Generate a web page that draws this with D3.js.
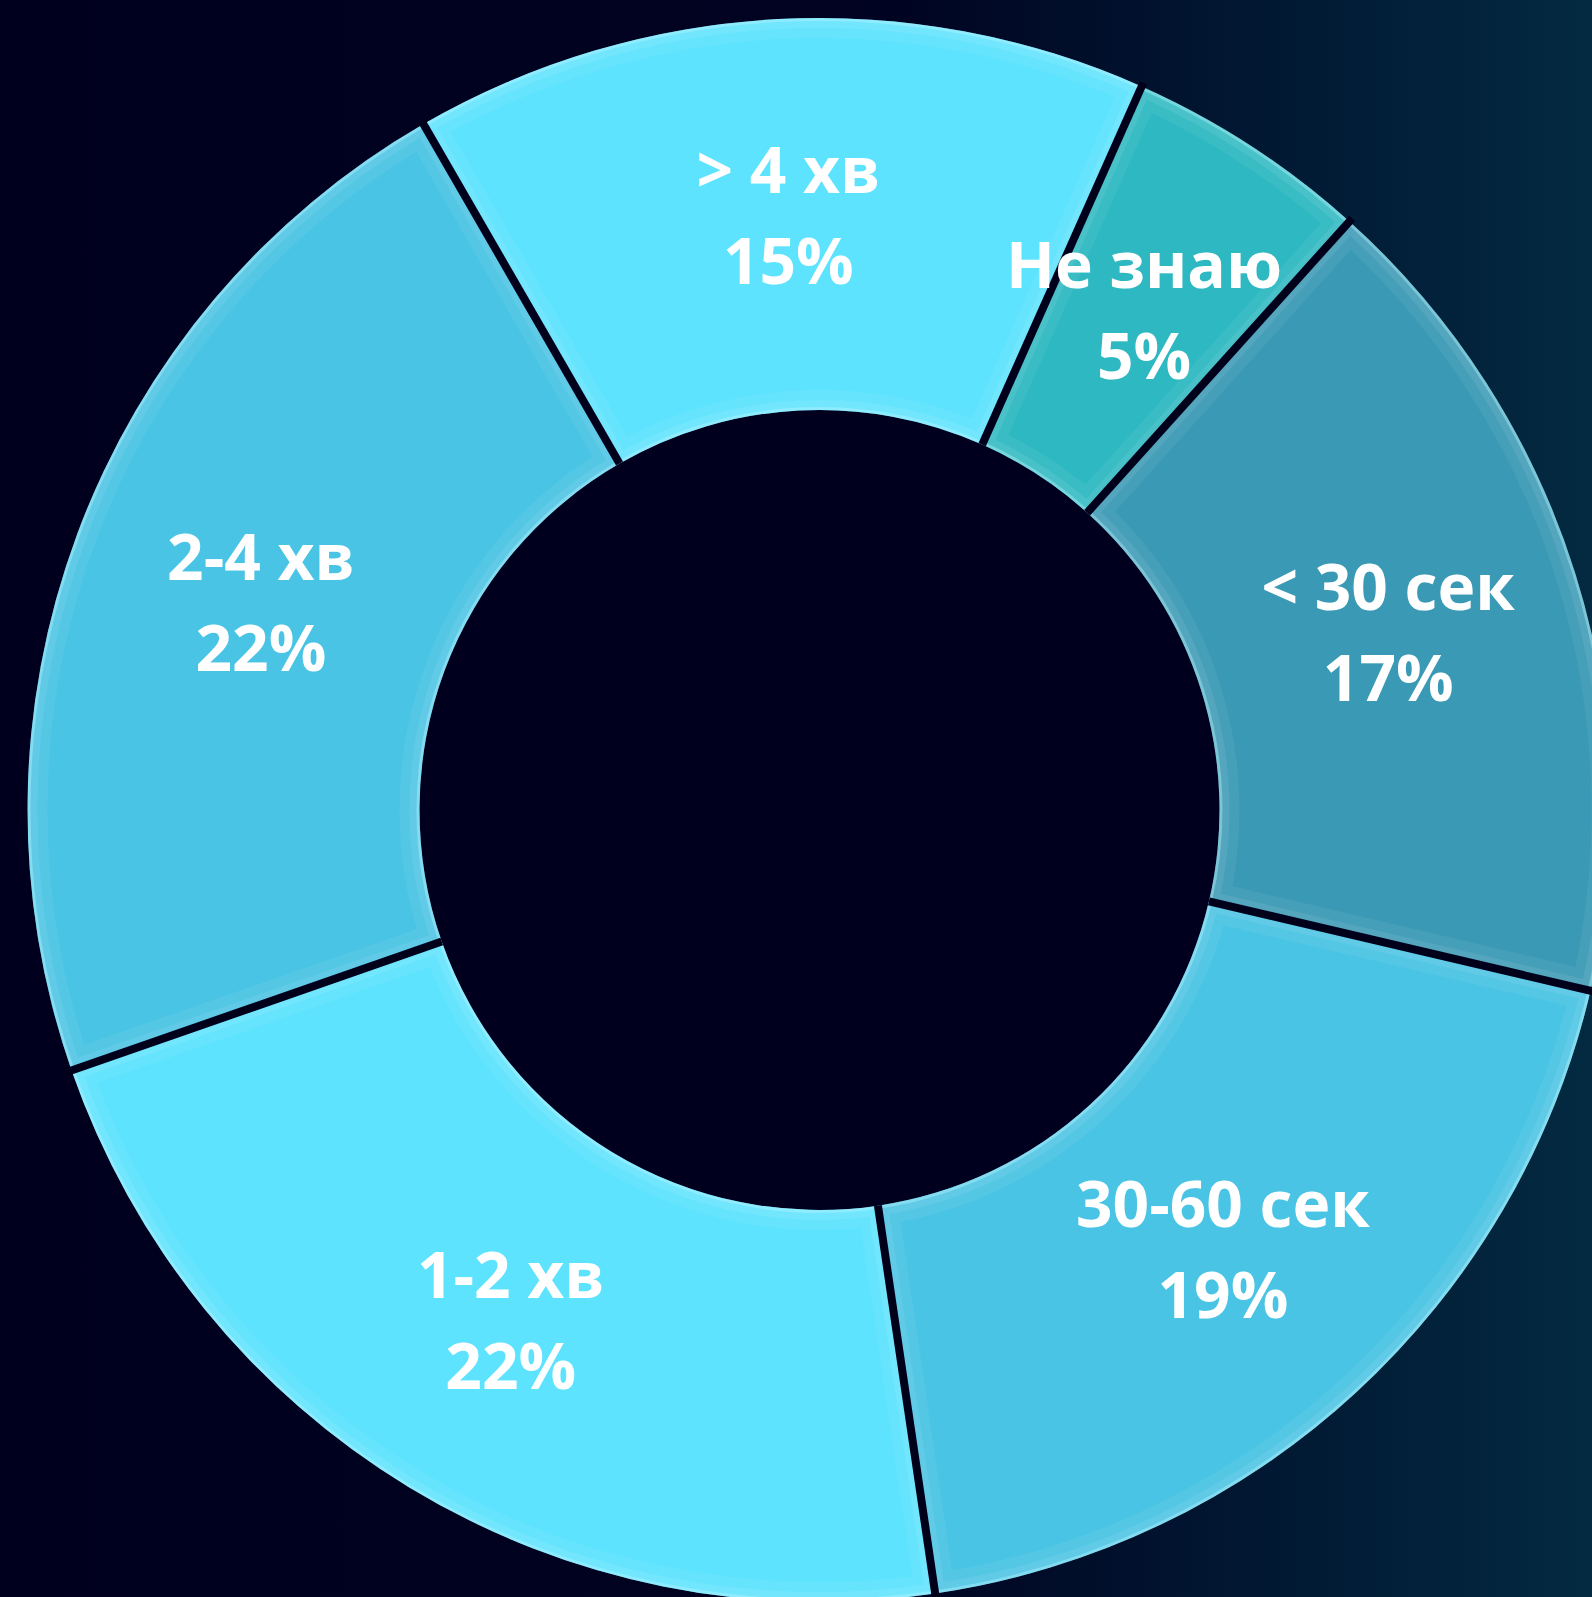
<!DOCTYPE html>
<html>
<head>
<meta charset="utf-8">
<script src="https://cdn.jsdelivr.net/npm/d3@7"></script>
<style>
  html, body { margin: 0; padding: 0; background: #00001e; overflow: hidden; }
  .label { font-family: "Open Sans", sans-serif; font-weight: 700; fill: #fff; }
</style>
</head>
<body>
<svg id="chart"></svg>
<script>
// Slices, clockwise, starting from "Не знаю"
const categories = ['Не знаю', '< 30 сек', '30-60 сек', '1-2 хв', '2-4 хв', '> 4 хв'];
const shares = [5, 17, 19, 22, 22, 15];
const sliceColors = ['#2eb8c1', '#3a99b4', '#4ac4e4', '#5de3fd', '#4ac4e4', '#5de3fd'];

const width = 1592, height = 1597;
const cx = 819.5, cy = 810;
const outerR = 792, innerR = 400;
const startDeg = 24;

const svg = d3.select('#chart')
  .attr('width', width)
  .attr('height', height);

const defs = svg.append('defs');

// background: navy fading to dark teal on the right
const bg = defs.append('linearGradient')
  .attr('id', 'bg')
  .attr('x1', 0).attr('x2', 1).attr('y1', 0).attr('y2', 0);
bg.append('stop').attr('offset', '0').attr('stop-color', '#00001e');
bg.append('stop').attr('offset', '0.55').attr('stop-color', '#000321');
bg.append('stop').attr('offset', '1').attr('stop-color', '#032a41');

svg.append('rect')
  .attr('width', width)
  .attr('height', height)
  .attr('fill', 'url(#bg)');

const pie = d3.pie()
  .sort(null)
  .value(d => d.value)
  .startAngle(startDeg * Math.PI / 180)
  .endAngle(startDeg * Math.PI / 180 + 2 * Math.PI);

const arc = d3.arc()
  .innerRadius(innerR)
  .outerRadius(outerR);

const data = categories.map((c, i) => ({name: c, value: shares[i], color: sliceColors[i]}));
const arcs = pie(data);

const chart = svg.append('g')
  .attr('transform', `translate(${cx},${cy})`);

// the hole keeps the plain navy of the plot area
chart.append('circle')
  .attr('r', innerR + 2)
  .attr('fill', '#00001e');

// clip each slice so the bevel strokes stay inside
arcs.forEach((d, i) => {
  defs.append('clipPath')
    .attr('id', `clip${i}`)
    .append('path')
    .attr('d', arc(d));
});

const slices = chart.selectAll('.slice')
  .data(arcs)
  .join('g')
  .attr('class', 'slice');

slices.append('path')
  .attr('d', arc)
  .attr('fill', d => d.data.color);

// soft bevel: wide faint band, then a thin bright rim
slices.append('path')
  .attr('d', arc)
  .attr('clip-path', (d, i) => `url(#clip${i})`)
  .attr('fill', 'none')
  .attr('stroke', '#ffffff')
  .attr('stroke-opacity', 0.06)
  .attr('stroke-width', 40);

slices.append('path')
  .attr('d', arc)
  .attr('clip-path', (d, i) => `url(#clip${i})`)
  .attr('fill', 'none')
  .attr('stroke', '#ffffff')
  .attr('stroke-opacity', 0.08)
  .attr('stroke-width', 20);

slices.append('path')
  .attr('d', arc)
  .attr('clip-path', (d, i) => `url(#clip${i})`)
  .attr('fill', 'none')
  .attr('stroke', '#b8f6ff')
  .attr('stroke-opacity', 0.4)
  .attr('stroke-width', 6);

// dark gaps along the slice borders
chart.selectAll('.gap')
  .data(arcs)
  .join('line')
  .attr('class', 'gap')
  .attr('x1', d => innerR * Math.sin(d.startAngle))
  .attr('y1', d => -innerR * Math.cos(d.startAngle))
  .attr('x2', d => (outerR + 4) * Math.sin(d.startAngle))
  .attr('y2', d => -(outerR + 4) * Math.cos(d.startAngle))
  .attr('stroke', '#00001a')
  .attr('stroke-width', 8);

// labels: name on top, share below
const labels = chart.selectAll('.label')
  .data(arcs)
  .join('text')
  .attr('class', 'label')
  .attr('text-anchor', 'middle')
  .attr('font-size', 64)
  .attr('transform', d => {
    const [x, y] = arc.centroid(d);
    return `translate(${x},${y})`;
  });

labels.append('tspan')
  .attr('x', 0)
  .attr('y', -22)
  .text(d => d.data.name);

labels.append('tspan')
  .attr('x', 0)
  .attr('y', 69)
  .text(d => d.data.value + '%');
</script>
</body>
</html>
